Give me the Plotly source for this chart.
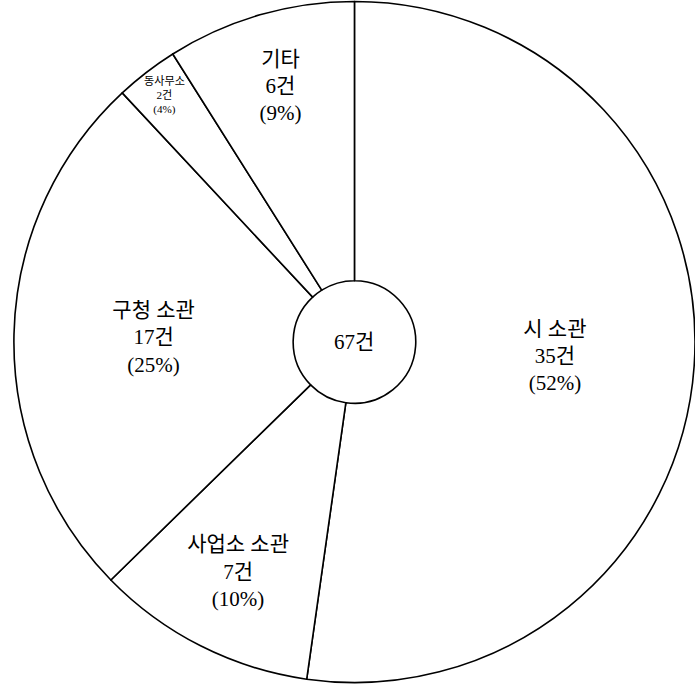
import plotly.graph_objects as go

categories = ["시 소관", "사업소 소관", "구청 소관", "동사무소", "기타"]
counts = [35, 7, 17, 2, 6]
pct_labels = ["52", "10", "25", "4", "9"]
total = 67

texts = [f"{c}<br>{n}건<br>({p}%)" for c, n, p in zip(categories, counts, pct_labels)]

FONT = "'Liberation Serif', 'Noto Sans CJK KR', serif"

fig = go.Figure(go.Pie(
    labels=categories,
    values=counts,
    text=texts,
    textinfo="text",
    textposition="inside",
    insidetextorientation="horizontal",
    sort=False,
    direction="clockwise",
    rotation=0,
    hole=0.18,
    marker=dict(colors=["white"] * len(counts), line=dict(color="black", width=1.6)),
    textfont=dict(family=FONT, size=21, color="black"),
    domain=dict(x=[0.02, 1.0], y=[0.0, 1.0]),
    showlegend=False,
    hoverinfo="label+value",
))

fig.add_annotation(
    text=f"{total}건", x=0.51, y=0.5, xref="paper", yref="paper",
    showarrow=False, font=dict(family=FONT, size=21, color="black"),
)

fig.update_layout(
    width=695, height=684,
    margin=dict(l=0, r=0, t=0, b=0),
    paper_bgcolor="white", plot_bgcolor="white",
)

fig.write_html("out.html")
